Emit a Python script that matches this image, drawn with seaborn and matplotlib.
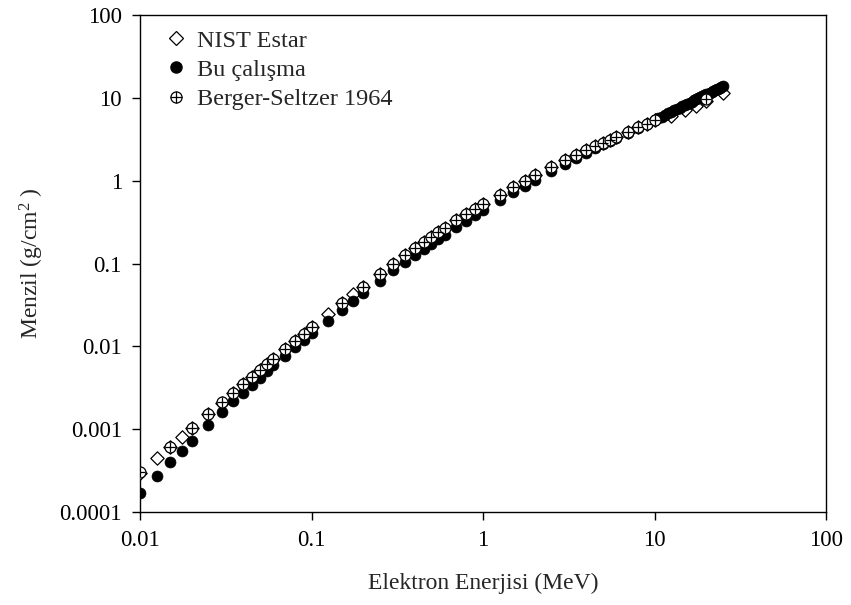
import matplotlib
matplotlib.use("Agg")
import matplotlib.pyplot as plt
import seaborn as sns
import pandas as pd
from matplotlib.lines import Line2D
from matplotlib.legend_handler import HandlerTuple
from matplotlib.ticker import FixedLocator, FuncFormatter, NullLocator

# ---------------- data ----------------
nist_energy = [0.01, 0.0125, 0.015, 0.0175, 0.02, 0.025, 0.03, 0.035, 0.04, 0.045,
               0.05, 0.055, 0.06, 0.07, 0.08, 0.09, 0.1, 0.125, 0.15, 0.175,
               0.2, 0.25, 0.3, 0.35, 0.4, 0.45, 0.5, 0.55, 0.6, 0.7,
               0.8, 0.9, 1, 1.25, 1.5, 1.75, 2, 2.5, 3, 3.5,
               4, 4.5, 5, 5.5, 6, 7, 8, 9, 10, 12.5,
               15, 17.5, 20, 25]
nist_range = [2.99e-4, 4.44e-4, 6.12e-4, 8.05e-4, 1.02e-3, 1.515e-3, 2.094e-3, 2.75e-3, 3.475e-3, 4.27e-3,
              5.14e-3, 6.07e-3, 7.07e-3, 9.25e-3, 1.166e-2, 1.428e-2, 1.703e-2, 2.46e-2, 3.31e-2, 4.23e-2,
              5.24e-2, 7.44e-2, 0.100, 0.127, 0.153, 0.181, 0.210, 0.240, 0.270, 0.332,
              0.395, 0.459, 0.520, 0.680, 0.842, 1.004, 1.164, 1.476, 1.771, 2.06,
              2.343, 2.62, 2.88, 3.14, 3.40, 3.90, 4.39, 4.89, 5.37, 6.0,
              7.1, 8.0, 9.1, 11.3]

bu_energy = [0.01, 0.0125, 0.015, 0.0175, 0.02, 0.025, 0.03, 0.035, 0.04, 0.045,
             0.05, 0.055, 0.06, 0.07, 0.08, 0.09, 0.1, 0.125, 0.15, 0.175,
             0.2, 0.25, 0.3, 0.35, 0.4, 0.45, 0.5, 0.55, 0.6, 0.7,
             0.8, 0.9, 1, 1.25, 1.5, 1.75, 2, 2.5, 3, 3.5,
             4, 4.5, 5, 5.5, 6, 7, 8, 9, 10,
             10.5, 11, 11.5, 12, 12.5, 13, 13.5, 14, 14.5, 15,
             15.5, 16, 16.5, 17, 17.5, 18, 18.5, 19, 19.5, 20,
             20.5, 21, 21.5, 22, 22.5, 23, 23.5, 24, 24.5, 25]
bu_range = [1.70e-4, 2.74e-4, 3.98e-4, 5.5e-4, 7.2e-4, 1.11e-3, 1.6e-3, 2.17e-3, 2.75e-3, 3.41e-3,
            4.2e-3, 5.0e-3, 5.9e-3, 7.7e-3, 9.8e-3, 1.2e-2, 1.44e-2, 2.05e-2, 2.75e-2, 3.5e-2,
            4.36e-2, 6.2e-2, 8.3e-2, 0.105, 0.127, 0.150, 0.172, 0.197, 0.223, 0.275,
            0.330, 0.385, 0.440, 0.580, 0.725, 0.870, 1.02, 1.32, 1.61, 1.90,
            2.18, 2.46, 2.74, 3.02, 3.28, 3.80, 4.32, 4.84, 5.40,
            5.67, 5.95, 6.22, 6.50, 6.78, 7.06, 7.34, 7.62, 7.90, 8.18,
            8.46, 8.74, 9.02, 9.30, 9.58, 9.86, 10.14, 10.42, 10.70, 10.98,
            11.26, 11.55, 11.83, 12.11, 12.40, 12.68, 12.96, 13.25, 13.53, 13.82]

bs_energy = [0.01, 0.015, 0.02, 0.025, 0.03, 0.035, 0.04, 0.045,
             0.05, 0.055, 0.06, 0.07, 0.08, 0.09, 0.1, 0.15,
             0.2, 0.25, 0.3, 0.35, 0.4, 0.45, 0.5, 0.55, 0.6, 0.7,
             0.8, 0.9, 1, 1.25, 1.5, 1.75, 2, 2.5, 3, 3.5,
             4, 4.5, 5, 5.5, 6, 7, 8, 9, 10, 20]
bs_range = [3.0e-4, 6.15e-4, 1.02e-3, 1.52e-3, 2.1e-3, 2.75e-3, 3.48e-3, 4.27e-3,
            5.15e-3, 6.07e-3, 7.07e-3, 9.25e-3, 1.166e-2, 1.428e-2, 1.70e-2, 3.31e-2,
            5.24e-2, 7.44e-2, 0.100, 0.127, 0.153, 0.181, 0.210, 0.240, 0.270, 0.332,
            0.395, 0.459, 0.520, 0.680, 0.842, 1.004, 1.164, 1.476, 1.771, 2.06,
            2.343, 2.62, 2.88, 3.14, 3.40, 3.90, 4.39, 4.89, 5.37, 9.6]

labels = ["NIST Estar", "Bu çalışma", "Berger-Seltzer 1964"]
x_ticks = [0.01, 0.1, 1, 10, 100]
y_ticks = [0.0001, 0.001, 0.01, 0.1, 1, 10, 100]
x_label = "Elektron Enerjisi (MeV)"
y_label = "Menzil (g/cm$^{2}$ )"

# ---------------- style ----------------
sns.set_style("ticks")
plt.rcParams["font.family"] = ["Liberation Serif", "DejaVu Serif"]
plt.rcParams["mathtext.fontset"] = "custom"
plt.rcParams["mathtext.rm"] = "Liberation Serif"
plt.rcParams["mathtext.it"] = "Liberation Serif:italic"
plt.rcParams["axes.edgecolor"] = "black"
plt.rcParams["axes.linewidth"] = 1.0

fig = plt.figure(figsize=(8.51, 6.05), dpi=100)
ax = fig.add_axes([140 / 851, 1 - 512 / 605, (826 - 140) / 851, (512 - 15) / 605])

df_nist = pd.DataFrame({"E": nist_energy, "R": nist_range})
df_bu = pd.DataFrame({"E": bu_energy, "R": bu_range})
df_bs = pd.DataFrame({"E": bs_energy, "R": bs_range})

s_d = 46
s_o = 62
sns.scatterplot(data=df_nist, x="E", y="R", marker="D", s=s_d, facecolor="white",
                edgecolor="black", linewidth=0.9, ax=ax, zorder=3)
sns.scatterplot(data=df_bu, x="E", y="R", marker="o", s=s_o, color="black",
                edgecolor="black", linewidth=0.5, ax=ax, zorder=4)
sns.scatterplot(data=df_bs, x="E", y="R", marker="o", s=s_o, facecolor="white",
                edgecolor="black", linewidth=0.9, ax=ax, zorder=5)
sns.scatterplot(data=df_bs, x="E", y="R", marker="+", s=s_o, color="black",
                linewidth=0.9, ax=ax, zorder=6)

ax.set_xscale("log")
ax.set_yscale("log")
ax.set_xlim(0.01, 100)
ax.set_ylim(0.0001, 100)
ax.xaxis.set_major_locator(FixedLocator(x_ticks))
ax.yaxis.set_major_locator(FixedLocator(y_ticks))
ax.xaxis.set_minor_locator(NullLocator())
ax.yaxis.set_minor_locator(NullLocator())
fmt = FuncFormatter(lambda v, p: ("%.4f" % v).rstrip("0").rstrip(".") if v < 1 else "%g" % v)
ax.xaxis.set_major_formatter(fmt)
ax.yaxis.set_major_formatter(fmt)
ax.tick_params(axis="both", which="major", direction="out", length=6, width=1,
               labelsize=16.5, colors="black", pad=7)
for sp in ax.spines.values():
    sp.set_visible(True)
    sp.set_color("black")
    sp.set_linewidth(1.0)

ax.set_xlabel(x_label, fontsize=17, labelpad=16)
ax.set_ylabel(y_label, fontsize=17, labelpad=10)

h_nist = Line2D([], [], linestyle="none", marker="D", markersize=7, markerfacecolor="white",
                markeredgecolor="black", markeredgewidth=0.9)
h_bu = Line2D([], [], linestyle="none", marker="o", markersize=8, markerfacecolor="black",
              markeredgecolor="black")
h_bs_o = Line2D([], [], linestyle="none", marker="o", markersize=8, markerfacecolor="white",
                markeredgecolor="black", markeredgewidth=0.9)
h_bs_p = Line2D([], [], linestyle="none", marker="+", markersize=8, markeredgecolor="black",
                markeredgewidth=0.9)
leg = ax.legend([h_nist, h_bu, (h_bs_o, h_bs_p)], labels,
                handler_map={tuple: HandlerTuple(ndivide=1)},
                loc="upper left", bbox_to_anchor=(0.0175, 1.0), frameon=False,
                fontsize=17.5, handlelength=0.8, handletextpad=0.45, labelspacing=0.3,
                borderaxespad=0.3, borderpad=0.3)

fig.savefig("out.png", dpi=100)
